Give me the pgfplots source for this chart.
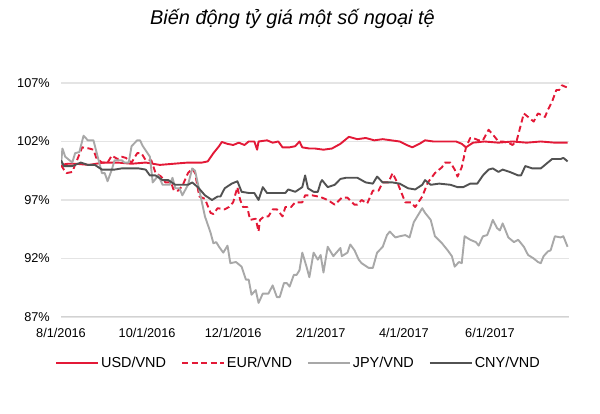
\documentclass[border=0pt]{standalone}
\usepackage{fontspec}
\setmainfont{Liberation Sans}
\usepackage{pgfplots}
\pgfplotsset{compat=1.18}
\definecolor{usdred}{RGB}{227,25,55}
\definecolor{jpygray}{RGB}{168,168,168}
\definecolor{cnygray}{RGB}{82,82,82}
\definecolor{gridgray}{RGB}{228,228,228}
\begin{document}
\begin{tikzpicture}
\path[use as bounding box] (0,0) rectangle (600bp,414bp);
\node[anchor=base, font=\fontsize{20}{24}\selectfont\itshape] at (292.5bp,389bp) {Biến động tỷ giá một số ngoại tệ};
\begin{axis}[
  at={(61bp,97bp)}, anchor=south west,
  scale only axis, width=508bp, height=234bp,
  xmin=0, xmax=360, ymin=87, ymax=107,
  axis line style={draw=none},
  major tick length=0pt,
  ytick={87,92,97,102,107},
  yticklabels={87\%,92\%,97\%,102\%,107\%},
  xtick={0,61,122,184,243,304},
  xticklabels={8/1/2016,10/1/2016,12/1/2016,2/1/2017,4/1/2017,6/1/2017},
  ymajorgrids, major grid style={draw=gridgray, line width=1.1bp},
  tick label style={font=\fontsize{12.8}{14}\selectfont, inner sep=0pt},
  yticklabel style={anchor=east, xshift=-11bp},
  xticklabel style={anchor=north, yshift=-11bp},
  /pgf/number format/assume math mode=true,
  legend columns=4,
  legend style={at={(0.4675,-0.1966)}, anchor=center, draw=none, fill=none,
    font=\fontsize{14.5}{16}\selectfont, inner sep=0pt,
    /tikz/every even column/.append style={column sep=13bp}},
  legend cell align=left,
  legend image code/.code={\draw[#1] (0bp,0bp) -- (42bp,0bp);},
  every axis plot/.append style={line width=1.9bp, line join=round},
]
% bottom axis line
\addplot[draw=gray!35, line width=1.6bp, forget plot] coordinates {(0,87) (360,87)};
% USD/VND
\addplot[usdred] coordinates {
(0,100.0) (5,100.1) (10,100.1) (20,100.0) (30,100.2) (40,100.2) (50,100.1) (60,100.2) (70,100.0)
(80,100.1) (90,100.2) (100,100.2) (104,100.3) (108,101.0) (112,101.6) (114,101.96) (118,101.8)
(122,101.7) (126,101.9) (130,101.7) (133,102.0) (137,102.0) (139,101.3) (140,102.0) (146,102.1)
(150,101.9) (154,102.0) (157,101.5) (162,101.5) (166,101.6) (169,102.0) (171,101.5) (176,101.4)
(180,101.4) (186,101.3) (192,101.4) (198,101.8) (204,102.4) (210,102.2) (216,102.3) (222,102.1)
(228,102.2) (234,102.1) (240,102.0) (245,101.7) (249,101.5) (254,101.8) (258,102.1) (264,102.0)
(272,102.0) (280,102.0) (284,101.8) (287,101.5) (292,101.9) (300,102.0) (310,101.9) (320,102.0)
(330,101.9) (340,102.0) (350,101.9) (359,101.9)};
\addlegendentry{USD/VND}
% EUR/VND
\addplot[usdred, dash pattern=on 6bp off 3.5bp] coordinates {
(0,100.0) (2,99.6) (4,99.3) (8,99.4) (12,100.6) (15,101.5) (20,101.4) (23,101.3) (25,100.6)
(29,100.2) (33,100.2) (36,100.8) (40,100.5) (43,100.7) (46,100.6) (50,100.2) (54,101.0) (57,101.0)
(60,100.4) (64,100.4) (67,99.3) (71,99.0) (74,98.5) (78,98.5) (80,97.8) (83,97.8) (86,98.2)
(90,99.3) (93,99.7) (95,99.3) (98,97.3) (102,97.1) (106,95.9) (108,95.8) (111,96.3) (116,96.2)
(119,96.4) (122,96.8) (125,98.1) (127,97.0) (129,96.4) (132,96.4) (134,95.3) (138,95.4) (140,94.3)
(141,95.3) (144,95.6) (147,95.6) (150,96.2) (153,96.2) (157,95.6) (159,96.4) (163,96.4) (166,96.8)
(171,96.8) (173,97.4) (178,97.4) (182,97.3) (185,97.2) (189,97.0) (194,96.6) (199,97.2) (203,97.2)
(208,96.6) (210,96.6) (213,97.0) (217,96.7) (221,97.8) (225,97.8) (228,98.5) (232,98.5) (235,99.3)
(239,98.3) (244,96.8) (248,96.8) (251,96.4) (256,97.3) (260,98.5) (265,99.3) (270,99.8) (272,100.2)
(276,100.2) (279,99.6) (281,99.0) (284,99.8) (287,101.5) (290,102.3) (292,102.3) (296,102.1)
(299,102.1) (303,103.0) (306,102.6) (310,102.0) (313,102.0) (317,101.9) (320,101.7) (323,102.1)
(328,104.4) (331,104.1) (335,103.7) (338,104.4) (343,104.1) (345,104.7) (348,105.4) (351,106.4)
(353,106.4) (355,106.8) (359,106.6)};
\addlegendentry{EUR/VND}
% JPY/VND
\addplot[jpygray] coordinates {
(0,100.0) (1,101.4) (3,100.7) (8,100.2) (10,101.0) (13,101.1) (16,102.5) (19,102.1) (23,102.1)
(26,100.7) (29,99.3) (31,99.3) (33,98.6) (36,99.6) (38,100.4) (43,100.4) (45,100.2) (48,100.2)
(50,101.6) (54,102.1) (56,102.1) (58,101.6) (63,100.7) (65,98.5) (69,99.1) (72,98.3) (77,98.3)
(79,98.9) (81,98.0) (84,98.0) (86,97.4) (90,98.3) (93,99.7) (95,99.5) (99,97.3) (102,95.6)
(106,94.2) (108,93.3) (110,93.4) (112,93.0) (115,92.5) (118,93.1) (120,91.6) (124,91.7) (128,91.3)
(131,90.2) (133,90.2) (135,88.9) (138,89.3) (140,88.2) (143,89.0) (147,89.0) (150,89.7) (153,88.7)
(155,88.7) (158,89.9) (160,89.9) (162,89.6) (165,90.6) (167,90.6) (169,91.0) (171,92.5) (174,91.3)
(176,90.4) (179,92.5) (182,91.9) (184,92.3) (186,90.8) (189,93.0) (193,92.2) (198,92.9) (199,92.2)
(203,92.5) (205,93.2) (208,92.7) (211,91.9) (213,91.6) (218,91.2) (221,91.2) (224,92.5) (228,93.0)
(231,94.0) (233,94.3) (237,93.8) (240,93.9) (244,94.0) (247,93.8) (250,95.1) (253,95.7) (256,96.3)
(258,95.9) (262,95.3) (265,93.9) (270,93.3) (274,92.7) (277,92.2) (279,91.3) (282,91.7) (284,91.6)
(286,93.9) (290,93.6) (294,93.4) (296,93.1) (299,93.9) (302,94.0) (304,94.6) (306,95.3) (309,94.6)
(311,94.4) (313,95.0) (317,93.8) (321,93.4) (324,93.6) (328,93.0) (331,92.3) (335,92.0) (338,91.7)
(340,91.6) (342,92.2) (345,92.6) (347,92.7) (350,93.9) (354,93.8) (356,93.9) (359,93.0)};
\addlegendentry{JPY/VND}
% CNY/VND
\addplot[cnygray] coordinates {
(0,100.4) (2,99.9) (8,99.9) (14,100.2) (19,100.0) (24,100.0) (29,99.6) (33,99.6) (38,99.6)
(43,99.7) (50,99.7) (55,99.7) (60,99.6) (63,99.1) (67,99.1) (72,98.7) (76,98.7) (81,98.3)
(86,98.3) (90,98.3) (93,98.5) (97,98.1) (102,97.4) (107,97.0) (111,97.3) (113,97.3) (116,98.0)
(121,98.4) (125,98.6) (128,97.7) (133,97.6) (137,97.6) (140,97.0) (143,98.1) (146,97.6) (150,97.6)
(156,97.6) (159,97.6) (161,97.9) (166,97.7) (171,98.1) (173,99.1) (175,98.0) (179,97.7) (182,97.7)
(184,98.5) (185,98.7) (189,98.1) (194,98.3) (198,98.8) (202,98.9) (206,98.9) (210,98.9) (216,98.5)
(221,98.4) (224,99.0) (228,98.5) (235,98.5) (240,98.4) (246,98.0) (251,97.9) (256,98.3) (258,98.7)
(262,98.3) (268,98.4) (276,98.3) (281,98.1) (285,98.1) (290,98.4) (295,98.4) (299,99.1) (303,99.6)
(306,99.7) (310,99.4) (313,99.6) (318,99.4) (324,99.1) (326,99.1) (329,99.9) (334,99.7) (340,99.7)
(345,100.2) (348,100.5) (354,100.5) (356,100.6) (359,100.3)};
\addlegendentry{CNY/VND}
\end{axis}
\end{tikzpicture}
\end{document}
